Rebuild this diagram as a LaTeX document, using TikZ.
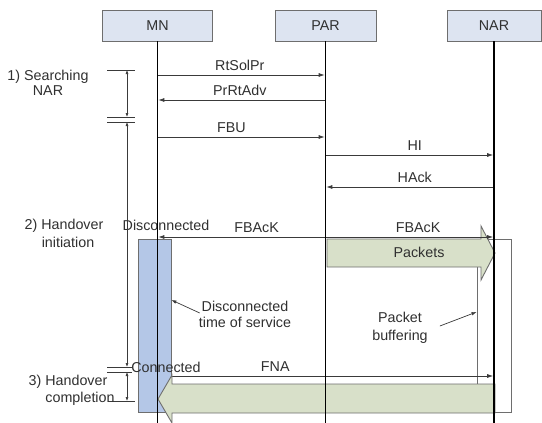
\documentclass[tikz,border=0pt]{standalone}
\usepackage{fontspec}
\setmainfont{Liberation Sans}
\usetikzlibrary{arrows.meta,calc}
\definecolor{hdrfill}{HTML}{DDE4F1}
\definecolor{edge}{HTML}{6E6E6E}
\definecolor{gapblue}{HTML}{B4C7E7}
\definecolor{pktgreen}{HTML}{D8E0C9}
\definecolor{msgline}{HTML}{3A3A3A}
\definecolor{txt}{HTML}{303030}

\begin{document}
\begin{tikzpicture}[x=1pt,y=-1pt,
  font=\fontsize{14.3}{17}\selectfont, text=txt,
  entity/.style={draw=edge,fill=hdrfill,line width=0.8pt,minimum height=31pt,inner sep=0pt},
  life/.style={line width=1.6pt,black},
  msg/.style={draw=msgline,line width=0.8pt,shorten >=0.8pt,-{Latex[length=6pt,width=4pt]}},
  lbl/.style={above=0pt,inner sep=1pt,text height=10pt,text depth=3pt},
  plain/.style={inner sep=1pt,text height=10pt,text depth=3pt},
  bracket/.style={draw=msgline,line width=0.6pt},
  span/.style={bracket,{Latex[length=4pt,width=3pt]}-{Latex[length=4pt,width=3pt]}},
  ptr/.style={draw=msgline,line width=0.7pt,-{Latex[length=5pt,width=3.5pt]}},
  block/.style={draw=edge,fill=pktgreen,line width=0.9pt,line join=miter}
]
\useasboundingbox[fill=white] (0,0) rectangle (542,423);

% entities
\node[entity,minimum width=110pt] (MN)  at (157.5,25.5) {MN};
\node[entity,minimum width=101pt] (PAR) at (325.5,25.5) {PAR};
\node[entity,minimum width=94pt]  (NAR) at (494,25.5)   {NAR};

% buffer at the new access router
\node[draw=edge,fill=white,line width=0.8pt,minimum width=34pt,minimum height=173pt,inner sep=0pt] (buf) at (494,325.5) {};

% forwarded packets PAR -> NAR
\filldraw[block] (327,239) -- (481,239) -- (481,226) -- (495,253) -- (481,280) -- (481,267) -- (327,267) -- cycle;
\node[plain] (pk) at (419,253.5) {Packets};

% signalling messages
\draw[msg] (MN |- 0,75)  -- node[lbl,pos=0.49]{RtSolPr} (PAR |- 0,75);
\draw[msg] (PAR |- 0,100) -- node[lbl,pos=0.51]{PrRtAdv} (MN |- 0,100);
\draw[msg] (MN |- 0,137) -- node[lbl,pos=0.44]{FBU} (PAR |- 0,137);
\draw[msg] (PAR |- 0,155) -- node[lbl,pos=0.53]{HI} (NAR |- 0,155);
\draw[msg] (NAR |- 0,187) -- node[lbl,pos=0.47]{HAck} (PAR |- 0,187);
\draw[msg] (PAR |- 0,237) -- node[lbl,pos=0.41]{FBAcK} (MN |- 0,237);
\draw[msg] (PAR |- 0,237) -- node[lbl,pos=0.55]{FBAcK} (NAR |- 0,237);
\draw[msg] (MN |- 0,376) -- node[lbl,pos=0.35]{FNA} (NAR |- 0,376);

% disconnection period of the mobile node
\node[draw=edge,fill=gapblue,line width=0.8pt,minimum width=33pt,minimum height=173pt,inner sep=0pt] (gap) at (154.5,325.5) {};

% buffered packets delivered NAR -> MN
\filldraw[block] (495,384) -- (172,384) -- (172,375) -- (158,399) -- (172,423) -- (172,413) -- (495,413) -- cycle;

% state labels on the mobile node
\node[plain] (dis) at (166,226.5) {Disconnected};
\node[plain] (con) at (166,368.5) {Connected};

% lifelines
\draw[life] (MN.south)  -- (MN |- 0,423);
\draw[life] (PAR.south) -- (PAR |- 0,423);
\draw[life] (NAR.south) -- (NAR |- 0,423);

% annotations
\node[align=center,inner sep=1pt] (dts) at (245,314) {Disconnected\\[-1pt]time of service};
\draw[ptr] ([xshift=2pt,yshift=1pt]dts.west) -- (gap.east |- 0,300);
\node[align=center,inner sep=1pt] (pb) at (400,328) {Packet\\[1pt]buffering};
\draw[ptr] ([xshift=11pt,yshift=2pt]pb.east) -- (buf.west |- 0,312);

% phase brackets
\coordinate (p0) at (127,70);
\coordinate (p1a) at (127,117);
\coordinate (p1b) at (127,122);
\coordinate (p2a) at (127,367);
\coordinate (p2b) at (127,372);
\coordinate (p3) at (127,401);
\draw[bracket] (107,70) -- (135,70);
\draw[bracket] (107,117) -- (135,117);
\draw[bracket] (107,122) -- (135,122);
\draw[bracket] (107,367) -- (132,367);
\draw[bracket] (107,372) -- (132,372);
\draw[bracket] (108,401) -- (135,401);
\draw[span] (p0) -- (p1a);
\draw[span] (p1b) -- (p2a);
\draw[span] (p2b) -- (p3);

\node[align=center,inner sep=1pt] (ph1) at (48,83) {1) Searching\\[-2pt]NAR};
\node[align=center,inner sep=1pt] (ph2) at (64,233) {2) Handover\\[1pt]\hspace*{8pt}initiation};
\node[align=center,inner sep=1pt] (ph3) at (68,390.5) {3) Handover\\\hspace*{24pt}completion};
\end{tikzpicture}
\end{document}
